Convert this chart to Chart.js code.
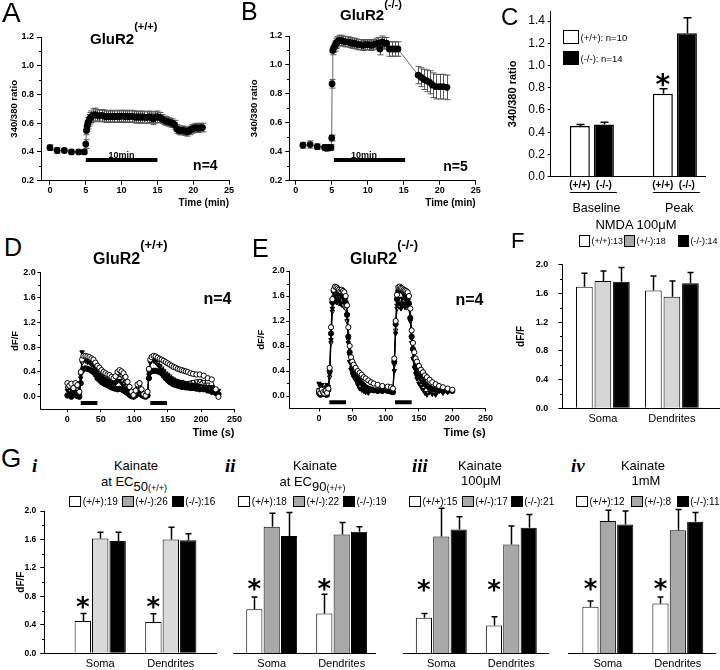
<!DOCTYPE html>
<html><head><meta charset="utf-8"><title>GluR2 calcium responses</title>
<script src="https://cdn.jsdelivr.net/npm/chart.js@4.4.1/dist/chart.umd.min.js"></script>
<style>
html,body{margin:0;padding:0;background:#fff;}
#fig{position:relative;width:720px;height:670px;overflow:hidden;background:#fff;font-family:'Liberation Sans',Arial,sans-serif;color:#000;}
#fig canvas{position:absolute;}
.t{position:absolute;white-space:nowrap;line-height:1;}
.up{position:relative;}
.box{position:absolute;border:1px solid #000;box-sizing:border-box;}
</style></head>
<body><div id="fig"></div>
<script>
// ---------------- DATA ----------------
// Panel A : GluR2(+/+) 340/380 ratio vs time (min)
const A_TIME = [0,1,2,3,4,4.8,5.0,5.1,5.2,5.3,
  5.45,5.6,5.8,6.0,6.3,6.6,6.9,7.2,7.5,7.8,
  8.1,8.4,8.7,9.0,9.3,9.6,9.9,10.2,10.5,10.8,
  11.1,11.4,11.7,12.0,12.3,12.6,12.9,13.2,13.5,13.8,
  14.1,14.4,14.7,15.0,15.3,15.6,15.9,16.2,16.5,16.8,
  17.1,17.4,17.7,18.0,18.3,18.6,18.9,19.2,19.5,19.8,
  20.1,20.4,20.7,21.0,21.3];
const A_RATIO = [0.43,0.41,0.41,0.40,0.40,0.40,0.455,0.55,0.58,0.60,
  0.62,0.635,0.645,0.655,0.66,0.655,0.65,0.655,0.65,0.645,
  0.65,0.645,0.65,0.645,0.65,0.645,0.65,0.65,0.645,0.65,
  0.645,0.65,0.645,0.64,0.645,0.64,0.645,0.64,0.64,0.645,
  0.64,0.63,0.64,0.645,0.64,0.63,0.62,0.615,0.61,0.605,
  0.60,0.59,0.56,0.55,0.55,0.55,0.545,0.54,0.55,0.56,
  0.565,0.57,0.565,0.57,0.57];
const A_SEM = [0.02,0.02,0.015,0.015,0.015,0.015,0.03,0.03,0.035,0.04,
  0.04,0.04,0.04,0.045,0.045,0.04,0.04,0.04,0.04,0.04,
  0.04,0.04,0.04,0.04,0.04,0.04,0.04,0.04,0.04,0.04,
  0.04,0.04,0.04,0.04,0.04,0.04,0.04,0.04,0.04,0.04,
  0.04,0.04,0.04,0.04,0.035,0.03,0.03,0.03,0.03,0.03,
  0.03,0.03,0.03,0.03,0.03,0.03,0.03,0.03,0.03,0.03,
  0.03,0.03,0.03,0.03,0.03];
const A_STIM = [5, 15];      // NMDA application (min)
const A_STIM_LEVEL = 0.344;
const A_N = 'n=4';

// Panel B : GluR2(-/-)
const B_TIME = [1,2,3,4,4.3,4.6,4.9,5.0,5.05,5.15,
  5.3,5.45,5.6,5.8,6.0,6.3,6.6,6.9,7.2,7.5,
  7.8,8.1,8.4,8.7,9.0,9.3,9.6,9.9,10.2,10.5,
  10.8,11.1,11.4,11.7,12.0,12.3,12.6,13.0,13.4,13.8,
  14.2,17.0,17.4,17.8,18.2,18.6,19.0,19.5,20.0,20.5,
  21.0];
const B_RATIO = [0.445,0.45,0.435,0.43,0.425,0.43,0.43,0.495,0.87,1.10,
  1.12,1.13,1.15,1.16,1.17,1.17,1.165,1.16,1.16,1.155,
  1.15,1.15,1.145,1.14,1.14,1.135,1.14,1.14,1.14,1.135,
  1.14,1.145,1.15,1.11,1.16,1.15,1.15,1.11,1.11,1.11,
  1.11,0.93,0.915,0.90,0.89,0.88,0.86,0.85,0.85,0.85,
  0.845];
const B_SEM = [0.02,0.025,0.02,0.02,0.02,0.02,0.02,0.02,0.03,0.03,
  0.03,0.035,0.035,0.035,0.035,0.035,0.035,0.035,0.035,0.035,
  0.035,0.035,0.035,0.035,0.035,0.035,0.035,0.035,0.035,0.035,
  0.035,0.035,0.04,0.04,0.04,0.04,0.04,0.05,0.05,0.05,
  0.05,0.06,0.065,0.07,0.075,0.08,0.085,0.085,0.085,0.085,
  0.085];
const B_STIM = [5.3, 15.2];
const B_STIM_LEVEL = 0.343;
const B_N = 'n=5';

const RATIO_XTICKS = [0,5,10,15,20,25];
const RATIO_YTICKS = [0.2,0.4,0.6,0.8,1.0,1.2];
const RATIO_YMINOR = [0.3,0.5,0.7,0.9,1.1];

// Panel C : NMDA 100uM, baseline vs peak
const C_GROUPS = ['Baseline','Peak'];
const C_GENO = ['(+/+)','(-/-)'];
const C_WT = [0.455, 0.745];
const C_WT_SEM = [0.015, 0.045];
const C_KO = [0.47, 1.29];
const C_KO_SEM = [0.02, 0.14];
const C_STAR = [null, 0.868];
const C_LEGEND = ['(+/+): n=10','(-/-): n=14'];
const C_YTICKS = [0,0.2,0.4,0.6,0.8,1.0,1.2,1.4];

// Panel D : GluR2(+/+) dF/F traces (4 cells)
const D_TIME = [0,3,6,9,12,15,18,20,22,24,
  27,30,33,36,39,42,45,48,51,54,
  57,60,63,66,69,72,75,78,81,84,
  87,90,93,96,99,102,105,108,111,114,
  117,120,122,124,126,129,132,135,138,141,
  144,147,150,153,156,159,162,165,168,171,
  174,177,180,184,188,193,198,204,210,216,
  222,226];
const D_CELL1 = [0.22,0.18,0.21,0.14,0.22,0.19,0.08,0.40,0.60,0.66,
  0.66,0.65,0.64,0.62,0.60,0.55,0.50,0.47,0.43,0.40,
  0.38,0.36,0.35,0.32,0.30,0.33,0.40,0.43,0.41,0.38,
  0.32,0.24,0.16,0.08,0.03,0.10,0.20,0.22,0.12,0.04,
  0.02,0.08,0.45,0.60,0.64,0.66,0.65,0.63,0.61,0.60,
  0.58,0.56,0.54,0.52,0.50,0.48,0.47,0.45,0.44,0.43,
  0.42,0.41,0.40,0.38,0.37,0.36,0.36,0.34,0.30,0.28,
  0.12,0.00];
const D_CELL2 = [0.10,0.06,0.12,0.05,0.08,0.04,0.02,0.30,0.72,0.64,
  0.58,0.56,0.55,0.52,0.50,0.46,0.40,0.36,0.32,0.30,
  0.28,0.26,0.25,0.24,0.22,0.22,0.25,0.26,0.22,0.18,
  0.14,0.10,0.06,0.03,0.02,0.05,0.10,0.12,0.08,0.03,
  0.02,0.05,0.35,0.55,0.60,0.58,0.56,0.52,0.48,0.44,
  0.40,0.36,0.34,0.31,0.29,0.27,0.26,0.25,0.24,0.22,
  0.22,0.21,0.20,0.20,0.19,0.19,0.18,0.17,0.16,0.15,
  0.12,0.10];
const D_CELL3 = [0.02,0.04,0.00,0.06,0.03,0.01,0.00,0.22,0.42,0.45,
  0.46,0.45,0.44,0.42,0.40,0.36,0.30,0.27,0.24,0.22,
  0.20,0.19,0.17,0.15,0.14,0.13,0.12,0.13,0.12,0.10,
  0.08,0.06,0.03,0.01,0.00,0.02,0.05,0.06,0.03,0.01,
  0.00,0.02,0.30,0.40,0.41,0.42,0.42,0.41,0.40,0.38,
  0.34,0.30,0.27,0.24,0.22,0.20,0.19,0.18,0.17,0.16,
  0.16,0.15,0.15,0.14,0.14,0.13,0.12,0.12,0.10,0.08,
  0.06,0.04];
const D_CELL4 = [0.14,0.10,0.16,0.12,0.10,0.12,0.05,0.35,0.55,0.60,
  0.62,0.60,0.58,0.56,0.52,0.48,0.44,0.40,0.36,0.34,
  0.32,0.30,0.28,0.26,0.27,0.30,0.34,0.36,0.34,0.30,
  0.24,0.18,0.12,0.06,0.04,0.08,0.14,0.16,0.10,0.05,
  0.04,0.06,0.40,0.56,0.60,0.60,0.58,0.55,0.50,0.46,
  0.42,0.38,0.36,0.33,0.30,0.28,0.26,0.25,0.24,0.24,
  0.23,0.22,0.22,0.23,0.24,0.25,0.26,0.24,0.20,0.16,
  0.08,0.05];
const D_STIM = [[20,45],[124,149]];
const D_N = 'n=4';

// Panel E : GluR2(-/-) dF/F traces (4 cells)
const E_TIME = [0,2,4,6,8,10,12,14,16,18,
  20,22,24,26,28,30,32,34,36,38,
  40,42,44,46,48,50,52,55,58,61,
  64,67,70,74,78,82,88,95,103,108,
  111,113,115,117,119,121,123,125,127,129,
  131,133,135,137,139,141,143,145,147,150,
  153,156,159,162,166,170,175,180,186,193,
  200];
const E_CELL1 = [0.08,0.05,0.10,0.06,0.04,0.08,0.05,0.12,0.45,1.10,
  1.55,1.70,1.75,1.74,1.72,1.70,1.68,1.70,1.68,1.66,
  1.60,1.45,1.10,0.80,0.62,0.55,0.50,0.45,0.40,0.37,
  0.34,0.30,0.28,0.25,0.22,0.20,0.18,0.16,0.15,0.14,
  0.12,0.60,1.20,1.62,1.74,1.75,1.73,1.72,1.70,1.69,
  1.68,1.66,1.60,1.40,1.05,0.85,0.70,0.60,0.55,0.48,
  0.42,0.38,0.33,0.30,0.26,0.22,0.19,0.16,0.14,0.12,
  0.10];
const E_CELL2 = [0.20,0.15,0.18,0.10,0.06,0.14,0.18,0.15,0.35,0.90,
  1.40,1.58,1.60,1.50,1.62,1.55,1.48,1.62,1.58,1.52,
  1.55,1.30,0.85,0.55,0.42,0.35,0.30,0.25,0.18,0.12,
  0.10,0.08,0.06,0.05,0.12,0.10,0.08,0.10,0.12,0.10,
  0.06,0.40,1.00,1.45,1.55,1.48,1.40,1.56,1.48,1.42,
  1.52,1.50,1.45,1.20,0.85,0.60,0.45,0.35,0.28,0.20,
  0.15,0.10,0.05,0.02,0.06,0.03,0.02,0.08,0.05,0.06,
  0.08];
const E_CELL3 = [0.05,0.02,0.08,0.04,0.03,0.06,0.02,0.10,0.40,1.00,
  1.50,1.68,1.72,1.70,1.68,1.65,1.64,1.62,1.60,1.58,
  1.50,1.30,0.95,0.70,0.55,0.46,0.40,0.34,0.28,0.24,
  0.20,0.17,0.14,0.12,0.10,0.09,0.08,0.08,0.08,0.07,
  0.06,0.55,1.15,1.55,1.68,1.70,1.70,1.68,1.66,1.62,
  1.58,1.55,1.48,1.25,0.95,0.75,0.60,0.48,0.40,0.33,
  0.28,0.23,0.19,0.16,0.13,0.11,0.10,0.09,0.08,0.08,
  0.08];
const E_CELL4 = [0.10,0.06,0.04,0.08,0.10,0.02,0.05,0.08,0.30,0.85,
  1.35,1.50,1.55,1.52,1.50,1.48,1.50,1.46,1.45,1.42,
  1.40,1.20,0.90,0.65,0.52,0.45,0.40,0.33,0.27,0.22,
  0.19,0.16,0.14,0.12,0.10,0.10,0.11,0.12,0.13,0.12,
  0.10,0.50,1.05,1.40,1.48,1.50,1.48,1.46,1.45,1.44,
  1.42,1.45,1.40,1.20,0.92,0.72,0.56,0.46,0.38,0.32,
  0.27,0.23,0.20,0.17,0.14,0.12,0.10,0.10,0.09,0.09,
  0.10];
const E_STIM = [[15.5,40.5],[114,139]];
const E_N = 'n=4';

const TRACE_XTICKS = [0,50,100,150,200,250];
const DFF_YTICKS = [0,0.4,0.8,1.2,1.6,2.0];
const DFF_YMINOR = [0.2,0.6,1.0,1.4,1.8];

// Panel F : NMDA 100uM
const REGIONS = ['Soma','Dendrites'];
const F_WT = [1.69, 1.64];   const F_WT_SEM = [0.19, 0.20];
const F_HET = [1.77, 1.55];  const F_HET_SEM = [0.14, 0.22];
const F_KO = [1.76, 1.74];   const F_KO_SEM = [0.20, 0.15];
const F_N = ['(+/+):13','(+/-):18','(-/-):14'];

// Panel G : Kainate
const G1_WT = [0.455, 0.44];  const G1_WT_SEM = [0.105, 0.115];
const G1_HET = [1.615, 1.60]; const G1_HET_SEM = [0.085, 0.17];
const G1_KO = [1.58, 1.59];   const G1_KO_SEM = [0.12, 0.09];
const G1_STAR = [0.71, 0.71];
const G1_N = ['(+/+):19','(+/-):26','(-/-):16'];

const G2_WT = [0.62, 0.56];   const G2_WT_SEM = [0.17, 0.27];
const G2_HET = [1.78, 1.67];  const G2_HET_SEM = [0.19, 0.17];
const G2_KO = [1.65, 1.71];   const G2_KO_SEM = [0.33, 0.07];
const G2_STAR = [0.96, 0.96];
const G2_N = ['(+/+):18','(+/-):22','(-/-):19'];

const G3_WT = [0.50, 0.39];   const G3_WT_SEM = [0.06, 0.125];
const G3_HET = [1.64, 1.53];  const G3_HET_SEM = [0.40, 0.26];
const G3_KO = [1.74, 1.765];  const G3_KO_SEM = [0.18, 0.185];
const G3_STAR = [0.95, 0.95];
const G3_N = ['(+/+):15','(+/-):17','(-/-):21'];

const G4_WT = [0.655, 0.70];  const G4_WT_SEM = [0.08, 0.09];
const G4_HET = [1.86, 1.73];  const G4_HET_SEM = [0.15, 0.29];
const G4_KO = [1.81, 1.85];   const G4_KO_SEM = [0.19, 0.13];
const G4_STAR = [0.96, 0.96];
const G4_N = ['(+/+):12','(+/-):8','(-/-):11'];

// ---------------- RENDERING ----------------
const fig = document.getElementById('fig');
const SANS = "'Liberation Sans',Arial,sans-serif";
const K = '#000';
Chart.defaults.font.family = SANS;
Chart.defaults.color = K;

const xy = (xs, ys) => xs.map((x, i) => ({x: x, y: ys[i]}));
const idx = arr => arr.map((_, i) => i);
const fixedTicks = vals => s => { s.ticks = vals.map(v => ({value: v})); };
const bold = (size) => ({family: SANS, size: size, weight: 'bold', lineHeight: 1});

// error bars (and significance stars) drawn from dataset values through the y scale
Chart.register({
  id: 'errbars',
  beforeDatasetsDraw(chart) {
    const ctx = chart.ctx, ys = chart.scales.y;
    chart.data.datasets.forEach((ds, i) => {
      if (!ds.errors) return;
      const meta = chart.getDatasetMeta(i);
      ctx.save();
      ctx.strokeStyle = ds.errColor || K;
      ctx.lineWidth = ds.errWidth || 1;
      const cap = ds.capHalf || 3;
      meta.data.forEach((el, j) => {
        const e = ds.errors[j];
        if (e == null) return;
        const v = meta.controller.getParsed(j).y;
        const x = Math.round(el.x) + 0.5;
        const yt = ys.getPixelForValue(v + e);
        const yb = ds.errUpOnly ? el.y : ys.getPixelForValue(v - e);
        ctx.beginPath();
        ctx.moveTo(x, yb); ctx.lineTo(x, yt);
        ctx.moveTo(x - cap, yt); ctx.lineTo(x + cap, yt);
        if (!ds.errUpOnly) { ctx.moveTo(x - cap, yb); ctx.lineTo(x + cap, yb); }
        ctx.stroke();
      });
      ctx.restore();
    });
  },
  afterDatasetsDraw(chart) {
    const ctx = chart.ctx, ys = chart.scales.y;
    chart.data.datasets.forEach((ds, i) => {
      if (!ds.stars) return;
      const meta = chart.getDatasetMeta(i);
      ctx.save();
      ctx.font = ds.starFont || "bold 26px 'DejaVu Sans'";
      ctx.fillStyle = K; ctx.textAlign = 'center'; ctx.textBaseline = 'alphabetic';
      const m = ctx.measureText('*');
      meta.data.forEach((el, j) => {
        const s = ds.stars[j];
        if (s == null) return;
        const yc = ys.getPixelForValue(s);
        ctx.fillText('*', el.x, yc + (m.actualBoundingBoxAscent - m.actualBoundingBoxDescent) / 2);
      });
      ctx.restore();
    });
  }
});

function notes(items) {
  return { id: 'notes', afterDatasetsDraw(chart) {
    const ctx = chart.ctx, xs = chart.scales.x, ys = chart.scales.y;
    items.forEach(n => {
      ctx.save();
      ctx.font = n.font; ctx.fillStyle = K; ctx.textAlign = n.align || 'center'; ctx.textBaseline = 'alphabetic';
      const m = ctx.measureText(n.text);
      const y = ys.getPixelForValue(n.y) + (m.actualBoundingBoxAscent - m.actualBoundingBoxDescent) / 2;
      ctx.fillText(n.text, xs.getPixelForValue(n.x), y);
      ctx.restore();
    });
  }};
}
function minorY(vals, len) {
  return { id: 'minorY', afterDraw(chart) {
    const ctx = chart.ctx, ys = chart.scales.y, x0 = Math.round(chart.chartArea.left);
    ctx.save(); ctx.strokeStyle = K; ctx.lineWidth = 1; ctx.beginPath();
    vals.forEach(v => { const y = Math.round(ys.getPixelForValue(v)) + 0.5; ctx.moveTo(x0, y); ctx.lineTo(x0 - len, y); });
    ctx.stroke(); ctx.restore();
  }};
}

function axis(o) {
  return {
    type: 'linear', min: o.min, max: o.max, display: o.display !== false, offset: false,
    afterBuildTicks: fixedTicks(o.ticks || []),
    ticks: { display: o.labels !== false, autoSkip: false, maxRotation: 0, minRotation: 0, padding: o.pad || 0, color: K,
      font: o.font, callback: o.fmt || (v => v.toFixed(o.digits || 0)) },
    grid: { display: (o.tl || 0) > 0, drawOnChartArea: false, drawTicks: (o.tl || 0) > 0, tickLength: o.tl || 0, color: K, lineWidth: 1 },
    border: { display: true, color: K, width: 1 },
    title: { display: !!o.title, text: o.title || '', color: K, font: o.titleFont, align: o.titleAlign || 'center', padding: o.titlePad || 0 }
  };
}

function mk(box, area, cfg, extra) {
  const c = document.createElement('canvas');
  c.width = box.w; c.height = box.h;
  c.style.left = box.l + 'px'; c.style.top = box.t + 'px';
  c.style.width = box.w + 'px'; c.style.height = box.h + 'px';
  fig.appendChild(c);
  const o = cfg.options;
  const yShown = o.scales.y.display !== false;
  o.responsive = false; o.animation = false; o.devicePixelRatio = 1; o.events = [];
  o.plugins = {legend: {display: false}, tooltip: {enabled: false}, title: {display: false}};
  o.layout = {padding: {left: yShown ? 0 : area.l - box.l, top: area.t - box.t, right: box.l + box.w - area.r, bottom: 0}};
  if (yShown) o.scales.y.afterFit = s => { s.width = area.l - box.l; };
  o.scales.x.afterFit = s => { s.height = box.t + box.h - area.b; };
  cfg.plugins = extra || [];
  return new Chart(c, cfg);
}

// ---- A & B ----
function ratioPanel(box, area, xmin, time, vals, sem, stim, level, nText, nPos, minPos, yTitlePad) {
  return mk(box, area, {
    type: 'line',
    data: { datasets: [
      { data: xy(time, vals), errors: sem, errColor: '#555', capHalf: 3, borderColor: '#666', borderWidth: 1,
        pointRadius: 3.4, pointBackgroundColor: K, pointBorderColor: K, pointBorderWidth: 0, tension: 0 },
      { data: xy(stim, stim.map(() => level)), borderColor: K, borderWidth: 4, pointRadius: 0, borderCapStyle: 'butt' }
    ]},
    options: { scales: {
      x: axis({min: xmin, max: 25, ticks: RATIO_XTICKS, digits: 0, font: bold(9), tl: 4, pad: 1,
        title: 'Time (min)', titleFont: bold(10), titleAlign: 'end', titlePad: {top: 0, bottom: 10}}),
      y: axis({min: 0.2, max: 1.2, ticks: RATIO_YTICKS, digits: 1, font: bold(9), tl: 4, pad: 3,
        title: '340/380 ratio', titleFont: bold(9.5), titlePad: {top: yTitlePad, bottom: 0}})
    }}
  }, [minorY(RATIO_YMINOR, 2), notes([
    {text: '10min', x: minPos[0], y: minPos[1], font: "bold 9px 'Liberation Sans'"},
    {text: nText, x: nPos[0], y: nPos[1], font: "bold 14px 'Liberation Sans'"}
  ])]);
}
ratioPanel({l: 0, t: 20, w: 240, h: 198}, {l: 41, t: 37, r: 229, b: 180.7}, -1.25,
  A_TIME, A_RATIO, A_SEM, A_STIM, A_STIM_LEVEL, A_N, [21.7, 0.306], [10.0, 0.379], 10);
ratioPanel({l: 240, t: 20, w: 246, h: 198}, {l: 289.3, t: 36, r: 475.7, b: 180.7}, -0.89,
  B_TIME, B_RATIO, B_SEM, B_STIM, B_STIM_LEVEL, B_N, [22.2, 0.305], [9.5, 0.378], 10);

// ---- C ----
mk({l: 480, t: 0, w: 240, h: 232}, {l: 550.7, t: 11, r: 705, b: 176.7}, {
  type: 'bar',
  data: { datasets: [
    { data: xy(idx(C_GROUPS), C_WT), backgroundColor: '#fff', borderColor: K, borderWidth: 1.5,
      errors: C_WT_SEM, errUpOnly: true, capHalf: 4, errWidth: 1.5, stars: C_STAR, starFont: "bold 28px 'DejaVu Sans'",
      categoryPercentage: 0.58, barPercentage: 0.83 },
    { data: xy(idx(C_GROUPS), C_KO), backgroundColor: K, borderColor: K, borderWidth: 1.5,
      errors: C_KO_SEM, errUpOnly: true, capHalf: 4, errWidth: 1.5, categoryPercentage: 0.58, barPercentage: 0.83 }
  ]},
  options: { scales: {
    x: axis({min: -0.496, max: 1.363, ticks: [0, 1], labels: false, tl: 0}),
    y: axis({min: 0, max: 1.49, ticks: C_YTICKS, digits: 1, font: {family: SANS, size: 12, lineHeight: 1}, tl: 3, pad: 2.7,
      title: '340/380 ratio', titleFont: bold(11), titlePad: {top: 27, bottom: 0}})
  }}
}, [{ id: 'cLabels', afterDraw(chart) {
  const ctx = chart.ctx, b = chart.chartArea.bottom;
  const m0 = chart.getDatasetMeta(0).data, m1 = chart.getDatasetMeta(1).data;
  ctx.save(); ctx.fillStyle = K; ctx.strokeStyle = K; ctx.lineWidth = 1; ctx.textAlign = 'center'; ctx.textBaseline = 'middle';
  C_GROUPS.forEach((g, i) => {
    ctx.font = "bold 10px 'Liberation Sans'";
    [m0[i], m1[i]].forEach((el, k) => ctx.fillText(C_GENO[k], el.x, b + 8.5));
    const l = m0[i].x - m0[i].width / 2, r = m1[i].x + m1[i].width / 2 + 3;
    const yl = Math.round(b + 15) + 0.5;
    ctx.beginPath(); ctx.moveTo(l, yl); ctx.lineTo(r, yl); ctx.stroke();
    ctx.font = "12.5px 'Liberation Sans'";
    ctx.fillText(g, (l + r) / 2 + 3, b + 31.5);
  });
  ctx.restore();
}}]);

// ---- D & E ----
const TRACE_STYLE = [
  {ps: 'circle', rot: 0, fill: '#fff'},
  {ps: 'triangle', rot: 180, fill: K},
  {ps: 'circle', rot: 0, fill: K},
  {ps: 'triangle', rot: 180, fill: '#fff'}
];
function tracePanel(box, area, xmin, time, cells, stims, nText, nPos, yTitlePad, xTitlePad) {
  const ds = cells.map((vals, i) => ({
    data: xy(time, vals), borderColor: K, borderWidth: 1, tension: 0,
    pointRadius: 2.6, pointStyle: TRACE_STYLE[i].ps, pointRotation: TRACE_STYLE[i].rot,
    pointBackgroundColor: TRACE_STYLE[i].fill, pointBorderColor: K, pointBorderWidth: 1
  }));
  stims.forEach(s => ds.push({ data: xy(s, s.map(() => -0.1)), borderColor: K, borderWidth: 4, pointRadius: 0, borderCapStyle: 'butt' }));
  return mk(box, area, {
    type: 'line', data: { datasets: ds },
    options: { scales: {
      x: axis({min: xmin, max: 250, ticks: TRACE_XTICKS, digits: 0, font: bold(9), tl: 3, pad: 3,
        title: 'Time (s)', titleFont: bold(11), titleAlign: 'end', titlePad: {top: 0, bottom: xTitlePad}}),
      y: axis({min: -0.2, max: 2.0, ticks: DFF_YTICKS, digits: 1, font: bold(9), tl: 3, pad: 1.5,
        title: 'dF/F', titleFont: bold(9.5), titlePad: {top: yTitlePad, bottom: 0}})
    }}
  }, [minorY(DFF_YMINOR, 2), notes([{text: nText, x: nPos[0], y: nPos[1], font: "bold 16px 'Liberation Sans'"}])]);
}
tracePanel({l: 0, t: 262, w: 245, h: 180}, {l: 40.3, t: 272.7, r: 235.7, b: 409.2}, -40.5, D_TIME,
  [D_CELL1, D_CELL2, D_CELL3, D_CELL4], D_STIM, D_N, [224.5, 1.6], 10.2, 3.5);
tracePanel({l: 240, t: 262, w: 258, h: 180}, {l: 289.3, t: 271, r: 485.6, b: 408.5}, -44.6, E_TIME,
  [E_CELL1, E_CELL2, E_CELL3, E_CELL4], E_STIM, E_N, [225.8, 1.55], 16.2, 4);

// ---- F & G bar panels ----
function barPanel(box, area, xmin, xmax, series, showY, yTitlePad, tickPad, catPct, barPct, tickSize) {
  const ds = series.map(s => ({
    data: xy(idx(REGIONS), s.v), backgroundColor: s.c, borderColor: K, borderWidth: 1,
    errors: s.e, errUpOnly: true, capHalf: 3, errWidth: 1.5, stars: s.stars || null,
    categoryPercentage: catPct, barPercentage: barPct
  }));
  return mk(box, area, {
    type: 'bar', data: { datasets: ds },
    options: { scales: {
      x: axis({min: xmin, max: xmax, ticks: [0, 1], tl: 0, pad: 5, font: {family: SANS, size: 11, lineHeight: 1}, fmt: v => REGIONS[v]}),
      y: showY
        ? axis({min: 0, max: 2.0, ticks: DFF_YTICKS, digits: 1, font: bold(tickSize), tl: 4, pad: tickPad,
            title: 'dF/F', titleFont: bold(10), titlePad: {top: yTitlePad, bottom: 0}})
        : {type: 'linear', min: 0, max: 2.0, display: false}
    }}
  }, showY ? [minorY(DFF_YMINOR, 2)] : []);
}
barPanel({l: 480, t: 250, w: 240, h: 182}, {l: 562.3, t: 261, r: 720, b: 408.3}, -0.588, 1.697, [
  {v: F_WT, e: F_WT_SEM, c: '#fff'}, {v: F_HET, e: F_HET_SEM, c: '#d6d6d6'}, {v: F_KO, e: F_KO_SEM, c: K}
], true, 36, 10, 0.805, 0.9, 9);

barPanel({l: 0, t: 498, w: 220, h: 172}, {l: 44.3, t: 511, r: 216, b: 653.3}, -0.792, 1.64, [
  {v: G1_WT, e: G1_WT_SEM, c: '#fff', stars: G1_STAR}, {v: G1_HET, e: G1_HET_SEM, c: '#d9d9d9'}, {v: G1_KO, e: G1_KO_SEM, c: K}
], true, 16, 4, 0.74, 0.94, 8.5);
barPanel({l: 225, t: 498, w: 155, h: 172}, {l: 233, t: 511, r: 375, b: 653.3}, -0.553, 1.476, [
  {v: G2_WT, e: G2_WT_SEM, c: '#fff', stars: G2_STAR}, {v: G2_HET, e: G2_HET_SEM, c: '#a8a8a8'}, {v: G2_KO, e: G2_KO_SEM, c: K}
], false, 0, 0, 0.745, 0.93, 8.5);
barPanel({l: 395, t: 498, w: 160, h: 172}, {l: 403, t: 511, r: 548, b: 653.3}, -0.547, 1.524, [
  {v: G3_WT, e: G3_WT_SEM, c: '#fff', stars: G3_STAR}, {v: G3_HET, e: G3_HET_SEM, c: '#a8a8a8'}, {v: G3_KO, e: G3_KO_SEM, c: K}
], false, 0, 0, 0.745, 0.93, 8.5);
barPanel({l: 560, t: 498, w: 160, h: 172}, {l: 568, t: 511, r: 715, b: 653.3}, -0.569, 1.531, [
  {v: G4_WT, e: G4_WT_SEM, c: '#fff', stars: G4_STAR}, {v: G4_HET, e: G4_HET_SEM, c: '#a8a8a8'}, {v: G4_KO, e: G4_KO_SEM, c: K}
], false, 0, 0, 0.745, 0.93, 8.5);

// ---------------- TEXT (HTML) ----------------
function T(html, x, y, css, align) {
  const d = document.createElement('div');
  d.className = 't';
  d.style.cssText = css;
  d.innerHTML = html;
  d.style.left = x + 'px'; d.style.top = y + 'px';
  const tx = align === 'c' ? '-50%' : align === 'r' ? '-100%' : '0';
  d.style.transform = 'translate(' + tx + ',-50%)';
  fig.appendChild(d);
}
function legend(items, y, bw, bh, css) {
  items.forEach(it => {
    const b = document.createElement('div');
    b.className = 'box';
    b.style.left = it.x + 'px'; b.style.top = (y - bh / 2) + 'px';
    b.style.width = bw + 'px'; b.style.height = bh + 'px'; b.style.background = it.c;
    fig.appendChild(b);
    T(it.label, it.x + bw + 1.5, y, css);
  });
}
const F_ = s => "font:" + s + " 'Liberation Sans',Arial,sans-serif";

// panel letters
T('A', 2, 13, F_('28px'));
T('B', 241, 10.5, F_('25px'));
T('C', 501, 16.7, F_('24px'));
T('D', 4, 247, F_('25px'));
T('E', 252, 248, F_('25px'));
T('F', 511, 240.7, F_('22px'));
T('G', 1, 457.5, F_('26px'));

// genotype titles
T('GluR2<span class="up" style="font-size:11px;top:-14px">(+/+)</span>', 90, 38, F_('bold 15px'));
T('GluR2<span class="up" style="font-size:11px;top:-12px">(-/-)</span>', 340, 13.5, F_('bold 15px'));
T('GluR2<span class="up" style="font-size:13px;top:-15px">(+/+)</span>', 93, 259, F_('bold 16px'));
T('GluR2<span class="up" style="font-size:13px;top:-15px">(-/-)</span>', 350, 259, F_('bold 16px'));

// C legend
legend([{x: 563, c: '#fff', label: C_LEGEND[0]}], 37, 16, 14, F_('9.5px'));
legend([{x: 563, c: K, label: C_LEGEND[1]}], 58, 16, 14, F_('9.5px'));

// F heading + legend
T('NMDA 100μM', 636, 224, F_('13px'), 'c');
legend([{x: 579, c: '#fff', label: F_N[0]}, {x: 624, c: '#a8a8a8', label: F_N[1]}, {x: 678, c: K, label: F_N[2]}], 241, 11, 12, F_('9px'));

// G headings
const ROMAN = "font:bold italic 19px 'Liberation Serif',serif";
T('<i>i</i>', 32, 466, ROMAN);
T('<i>ii</i>', 225, 466, ROMAN);
T('<i>iii</i>', 412, 466, ROMAN);
T('<i>iv</i>', 571, 466, ROMAN);
[136, 315, 480, 643].forEach(x => T('Kainate', x, 465, F_('13px'), 'c'));
T('at EC<span class="up" style="top:5px">50<span style="font-size:9px">(+/+)</span></span>', 134, 481, F_('13px'), 'c');
T('at EC<span class="up" style="top:5px">90<span style="font-size:9px">(+/+)</span></span>', 312.5, 481, F_('13px'), 'c');
T('100μM', 481, 480, F_('13px'), 'c');
T('1mM', 646, 480, F_('13px'), 'c');

// G legends
const GCOL = ['#fff', '#a8a8a8', K];
[[G1_N, [69.3, 121.7, 171.7]], [G2_N, [238.3, 293, 343]], [G3_N, [409, 461.7, 510.7]], [G4_N, [576, 630.7, 676.7]]]
  .forEach(([labels, xs]) => legend(labels.map((l, i) => ({x: xs[i], c: GCOL[i], label: l})), 501, 12, 11, F_('10px')));
</script></body></html>
